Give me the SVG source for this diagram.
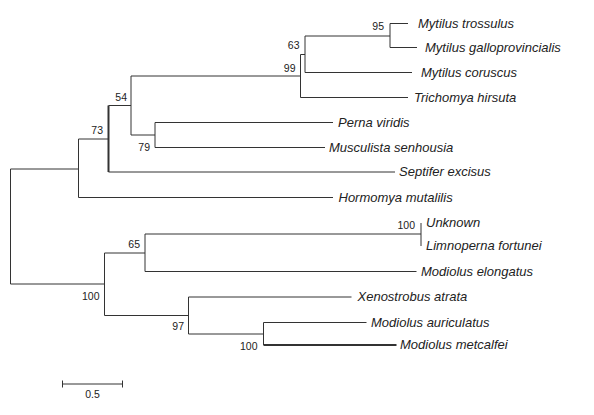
<svg xmlns="http://www.w3.org/2000/svg" width="594" height="415" viewBox="0 0 594 415">
<style>
.br{stroke:#333;stroke-width:1;fill:none}
.thick{stroke-width:2}
.tip{font-family:"Liberation Sans",Arial,sans-serif;font-style:italic;font-size:13px;fill:#222}
.bs{font-family:"Liberation Sans",Arial,sans-serif;font-size:10.5px;fill:#222;text-anchor:end}
.sc{font-family:"Liberation Sans",Arial,sans-serif;font-size:10.5px;fill:#222;text-anchor:middle}
</style>
<rect width="594" height="415" fill="#fff"/>
<g id="connectors">
<path class="br" d="M10.5,169V284M10.5,169H78.5M78.5,139V197.5M78.5,197.5H333M78.5,139H108.5"/>
<path class="br thick" d="M108.5,105.5V172"/>
<path class="br" d="M108.5,172H395M108.5,105.5H131M131,76V135M131,135H155M155,122.5V147.5M155,122.5H333M155,147.5H325"/>
<path class="br" d="M131,76H300.5M300.5,54.5V97.5M300.5,97.5H408M300.5,54.5H305M305,36V72.5M305,72.5H412M305,36H390M390,23.5V47.5M390,23.5H408M390,47.5H417"/>
<path class="br" d="M10.5,284H104.5M104.5,253V315.5M104.5,253H145M145,234V271.5M145,234H421M421,223V246M145,271.5H416.5"/>
<path class="br" d="M104.5,315.5H188.5M188.5,297V334M188.5,297H351.5M188.5,334H263.5M263.5,322.5V345M263.5,322.5H366.5"/>
<path class="br thick" d="M263.5,345H396.5"/>
</g>
<g id="bootstrap">
<text class="bs" x="384" y="30">95</text>
<text class="bs" x="299.5" y="48.5">63</text>
<text class="bs" x="295.5" y="72">99</text>
<text class="bs" x="127" y="100.5">54</text>
<text class="bs" x="103" y="134">73</text>
<text class="bs" x="150" y="150.5">79</text>
<text class="bs" x="140" y="248">65</text>
<text class="bs" x="99.5" y="300">100</text>
<text class="bs" x="415" y="229">100</text>
<text class="bs" x="184" y="330">97</text>
<text class="bs" x="257.5" y="349.5">100</text>
</g>
<g id="tips">
<g id="n-trossulus"><text class="tip" x="418" y="27.5">Mytilus trossulus</text></g>
<g id="n-galloprovincialis"><text class="tip" x="425" y="51.5">Mytilus galloprovincialis</text></g>
<g id="n-coruscus"><text class="tip" x="421" y="76.5">Mytilus coruscus</text></g>
<g id="n-trichomya"><text class="tip" x="414" y="101.5">Trichomya hirsuta</text></g>
<g id="n-perna"><text class="tip" x="338" y="126.5">Perna viridis</text></g>
<g id="n-musculista"><text class="tip" x="329" y="151.5">Musculista senhousia</text></g>
<g id="n-septifer"><text class="tip" x="399" y="176">Septifer excisus</text></g>
<g id="n-hormomya"><text class="tip" x="338.5" y="201.5">Hormomya mutalilis</text></g>
<g id="n-unknown"><text class="tip" x="426" y="227">Unknown</text></g>
<g id="n-limnoperna"><text class="tip" x="426" y="250">Limnoperna fortunei</text></g>
<g id="n-elongatus"><text class="tip" x="421" y="275.5">Modiolus elongatus</text></g>
<g id="n-xenostrobus"><text class="tip" x="357.5" y="301">Xenostrobus atrata</text></g>
<g id="n-auriculatus"><text class="tip" x="371" y="326.5">Modiolus auriculatus</text></g>
<g id="n-metcalfei"><text class="tip" x="400" y="349">Modiolus metcalfei</text></g>
</g>
<g id="scalebar">
<path class="br" d="M62.5,384H122.5M62.5,380.5V387.5M122.5,380.5V387.5"/>
<text class="sc" x="92.5" y="398">0.5</text>
</g>
</svg>
